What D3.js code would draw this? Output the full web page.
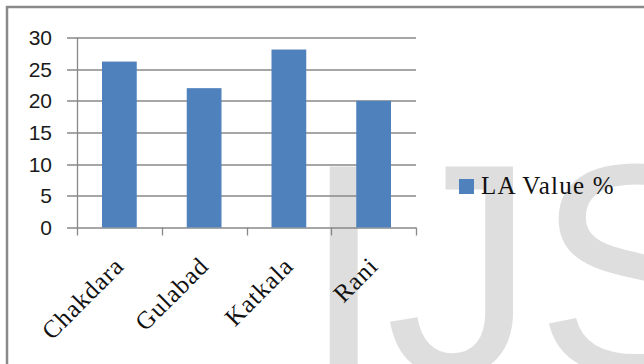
<!DOCTYPE html>
<html>
<head>
<meta charset="utf-8">
<script src="https://cdn.jsdelivr.net/npm/d3@7"></script>
<style>
  html, body { margin: 0; padding: 0; background: #fff; }
  svg { display: block; }
</style>
</head>
<body>
<svg class="chart" width="644" height="364"></svg>
<script>
'use strict'

const categories = ['Chakdara', 'Gulabad', 'Katkala', 'Rani']
const laValues = [26.2, 22, 28.1, 20]
const yTicks = [0, 5, 10, 15, 20, 25, 30]
const seriesName = 'LA Value %'

const svg = d3.select('svg.chart')
const margin = { top: 37.5, left: 77 }
const width = 339
const height = 190

// watermark sits behind everything
svg.append('text')
  .attr('x', 302)
  .attr('y', 373)
  .attr('font-family', 'Liberation Sans, Arial, sans-serif')
  .attr('font-size', 300)
  .attr('fill', '#dedede')
  .text('IJSER')

// chart area border (right and bottom run off the picture)
svg.append('rect')
  .attr('x', 7)
  .attr('y', 7)
  .attr('width', 700)
  .attr('height', 400)
  .attr('fill', 'none')
  .attr('stroke', '#8a8a8a')
  .attr('stroke-width', 2.5)

const x = d3.scaleBand()
  .domain(categories)
  .range([0, width])
  .paddingInner(0.59)
  .paddingOuter(0.295)

const xTicks = d3.scaleBand().domain(categories).range([0, width])

const y = d3.scaleLinear().domain([0, 30]).range([height, 0])

const g = svg.append('g')
  .attr('transform', 'translate(' + margin.left + ',' + margin.top + ')')

// gridlines with little tick stubs on the left
g.append('g')
  .selectAll('line')
  .data(yTicks)
  .enter().append('line')
  .attr('x1', -10)
  .attr('x2', width)
  .attr('y1', d => Math.round(y(d)) + 0.5)
  .attr('y2', d => Math.round(y(d)) + 0.5)
  .attr('stroke', '#888')
  .attr('stroke-width', 1.3)

// y axis line
g.append('line')
  .attr('x1', 0.5).attr('x2', 0.5)
  .attr('y1', y(30)).attr('y2', height)
  .attr('stroke', '#888')
  .attr('stroke-width', 1.3)

// category boundary ticks below the axis
const boundaries = categories.map(c => xTicks(c)).concat([width])
g.append('g')
  .selectAll('line')
  .data(boundaries)
  .enter().append('line')
  .attr('x1', d => Math.round(d) + 0.5)
  .attr('x2', d => Math.round(d) + 0.5)
  .attr('y1', height)
  .attr('y2', height + 8)
  .attr('stroke', '#888')
  .attr('stroke-width', 1.3)

g.selectAll('.bar')
  .data(laValues)
  .enter().append('rect')
  .attr('class', 'bar')
  .attr('x', (d, i) => x(categories[i]))
  .attr('y', d => y(d))
  .attr('width', x.bandwidth())
  .attr('height', d => height - y(d))
  .attr('fill', '#4f81bd')

// y tick labels
g.append('g')
  .selectAll('text')
  .data(yTicks)
  .enter().append('text')
  .attr('x', -25)
  .attr('y', d => y(d))
  .attr('dy', '0.36em')
  .attr('text-anchor', 'end')
  .attr('font-family', 'Liberation Sans, Arial, sans-serif')
  .attr('font-size', 21)
  .attr('fill', '#1a1a1a')
  .text(d => d)

// rotated category labels, end of text near the band centre
g.append('g')
  .selectAll('text')
  .data(categories)
  .enter().append('text')
  .attr('transform', d => 'translate(' + (xTicks(d) + xTicks.bandwidth() / 2 + 6) + ',' + (height + 40) + ')rotate(-45)')
  .attr('text-anchor', 'end')
  .attr('font-family', 'Liberation Serif, Times New Roman, serif')
  .attr('font-size', 25)
  .attr('letter-spacing', 1)
  .attr('fill', '#111')
  .text(d => d)

// legend
const legend = svg.append('g').attr('transform', 'translate(459,179)')
legend.append('rect')
  .attr('width', 15)
  .attr('height', 15)
  .attr('fill', '#4f81bd')
legend.append('text')
  .attr('x', 22)
  .attr('y', 14.5)
  .attr('font-family', 'Liberation Serif, Times New Roman, serif')
  .attr('font-size', 25)
  .attr('letter-spacing', 1.2)
  .attr('fill', '#111')
  .text(seriesName)
</script>
</body>
</html>
